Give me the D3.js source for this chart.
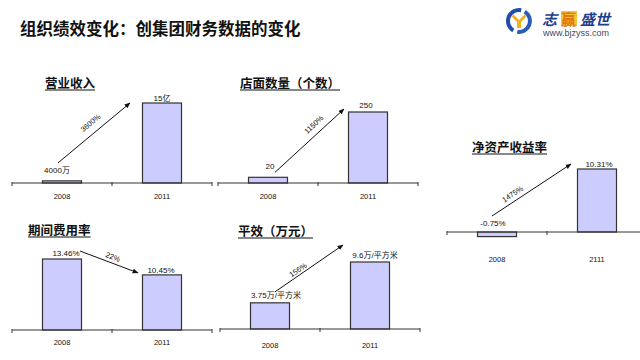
<!DOCTYPE html>
<html><head><meta charset="utf-8">
<script src="https://cdn.jsdelivr.net/npm/d3@7/dist/d3.min.js"></script>
<style>body{margin:0;background:#fff}svg{display:block}</style>
</head><body><svg id="c" width="640" height="360"></svg>
<script>
// ---- data ----
const years = ["2008", "2011"];
const roeYears = ["2008", "2111"];
const revenueValues = [0.4, 15];
const revenueLabels = ["4000万", "15亿"];
const revenueGrowth = "3600%";
const storeValues = [20, 250];
const storeLabels = ["20", "250"];
const storeGrowth = "1150%";
const roeValues = [-0.75, 10.31];
const roeLabels = ["-0.75%", "10.31%"];
const roeGrowth = "1475%";
const expenseValues = [13.46, 10.45];
const expenseLabels = ["13.46%", "10.45%"];
const expenseGrowth = "22%";
const effValues = [3.75, 9.6];
const effLabels = ["3.75万/平方米", "9.6万/平方米"];
const effGrowth = "156%";
const mainTitle = "组织绩效变化：创集团财务数据的变化";

// ---- layout ----
const panels = [
  {title: "营业收入", cats: years, values: revenueValues, labels: revenueLabels, growth: revenueGrowth,
   x0: 12, x1: 212, axisEnd: 212, base: 183, top: 103, tx: 45, ty: 88, yearDy: 16,
   lab: [[-5, -8], [0, -2]], as: [-4, -18], ae: [-32, 0], t: 0.54, d: 10},
  {title: "店面数量（个数）", cats: years, values: storeValues, labels: storeLabels, growth: storeGrowth,
   x0: 218, x1: 418, axisEnd: 418, base: 183, top: 112, tx: 240, ty: 88, yearDy: 16,
   lab: [[2, -8], [-2, -4]], as: [7, -5], ae: [-24, -3], t: 0.65, d: 9},
  {title: "净资产收益率", cats: roeYears, values: roeValues, labels: roeLabels, growth: roeGrowth,
   x0: 447, x1: 647, axisEnd: 640, base: 232, top: 169, tx: 472, ty: 152, yearDy: 30,
   lab: [[-4, -6], [2, -2]], as: [-5, -16], ae: [-26, -5], t: 0.31, d: 7},
  {title: "期间费用率", cats: years, values: expenseValues, labels: expenseLabels, growth: expenseGrowth,
   x0: 12, x1: 212, axisEnd: 212, base: 330, top: 259, tx: 28, ty: 235, yearDy: 15,
   lab: [[4, -3], [-1, -2]], as: [18, -8], ae: [-24, -2], t: 0.53, d: 6},
  {title: "平效（万元）", cats: years, values: effValues, labels: effLabels, growth: effGrowth,
   x0: 220, x1: 420, axisEnd: 420, base: 329, top: 262, tx: 238, ty: 236, yearDy: 19,
   lab: [[6, -5], [5, -4]], as: [5, -11], ae: [-27, -17], t: 0.38, d: 5}
];

const svg = d3.select("#c");
const LAT = "'Liberation Sans', Arial, 'Noto Sans CJK SC', sans-serif";
const CJK = "'Noto Sans CJK SC', 'Liberation Sans', sans-serif";

svg.append("defs").append("marker")
  .attr("id", "ah").attr("viewBox", "0 0 10 10").attr("refX", 9).attr("refY", 5)
  .attr("markerWidth", 6).attr("markerHeight", 6).attr("orient", "auto")
  .append("path").attr("d", "M0,1 L10,5 L0,9 Z").attr("fill", "#111");

// main title
svg.append("text").attr("x", 20).attr("y", 35).text(mainTitle)
  .attr("font-family", CJK).attr("font-weight", "bold").attr("font-size", 16.5).attr("fill", "#111");

// logo
const logo = svg.append("g");
logo.append("path").attr("d", d3.arc()({innerRadius: 9, outerRadius: 13, startAngle: -2.6, endAngle: 0.2}))
  .attr("transform", "translate(519,21)").attr("fill", "#1f4fa8");
logo.append("path").attr("d", d3.arc()({innerRadius: 9, outerRadius: 13, startAngle: 0.55, endAngle: 3.3}))
  .attr("transform", "translate(519,21)").attr("fill", "#2a5db8");
logo.append("path").attr("d", "M513,14 L519,20 L525,14 L526,17 L521,22 L521,28 L517,28 L517,22 L512,17 Z")
  .attr("fill", "#f2b21b");
logo.append("text").attr("x", 542).attr("y", 25).text("志").attr("font-family", CJK)
  .attr("font-weight", "bold").attr("font-style", "italic").attr("font-size", 15).attr("fill", "#1f3f8f");
logo.append("rect").attr("x", 561).attr("y", 11).attr("width", 16).attr("height", 15).attr("fill", "#f6c23a");
logo.append("text").attr("x", 561).attr("y", 25).text("赢").attr("font-family", CJK)
  .attr("font-weight", "bold").attr("font-size", 15).attr("fill", "#e07a10");
logo.append("text").attr("x", 580).attr("y", 25).text("盛世").attr("font-family", CJK)
  .attr("font-weight", "bold").attr("font-style", "italic").attr("font-size", 15).attr("fill", "#1f3f8f");
logo.append("text").attr("x", 543).attr("y", 36).text("www.bjzyss.com").attr("font-family", LAT)
  .attr("font-size", 9).attr("fill", "#3a4a6a");

panels.forEach(p => {
  const g = svg.append("g");
  const x = d3.scaleBand().domain(p.cats).range([p.x0, p.x1]).paddingInner(0.61).paddingOuter(0.305);
  const vmax = d3.max(p.values);
  const y = d3.scaleLinear().domain([0, vmax]).range([p.base, p.top]);

  // title with underline
  const tt = g.append("text").attr("x", p.tx).attr("y", p.ty).text(p.title)
    .attr("font-family", CJK).attr("font-weight", "bold").attr("font-size", 12.5).attr("fill", "#111");
  const w = tt.node().getComputedTextLength();
  g.append("line").attr("x1", p.tx).attr("x2", p.tx + w).attr("y1", p.ty + 2).attr("y2", p.ty + 2)
    .attr("stroke", "#111").attr("stroke-width", 1);

  // bars
  g.selectAll("rect.bar").data(p.values).join("rect").attr("class", "bar")
    .attr("x", (d, i) => x(p.cats[i]))
    .attr("width", x.bandwidth())
    .attr("y", d => Math.min(y(d), y(0)))
    .attr("height", d => Math.max(1.5, Math.abs(y(d) - y(0))))
    .attr("fill", "#ccccff").attr("stroke", "#333").attr("stroke-width", 1.2);

  // axis line + boundary ticks
  g.append("line").attr("x1", p.x0).attr("x2", p.axisEnd).attr("y1", p.base).attr("y2", p.base)
    .attr("stroke", "#333").attr("stroke-width", 1);
  const step = x.step();
  const bounds = [p.x0, p.x0 + step, p.x0 + 2 * step].filter(v => v <= p.axisEnd);
  g.selectAll("line.tk").data(bounds).join("line").attr("class", "tk")
    .attr("x1", d => d).attr("x2", d => d).attr("y1", p.base - 1).attr("y2", p.base + 3)
    .attr("stroke", "#333").attr("stroke-width", 1);

  // year labels
  g.selectAll("text.yr").data(p.cats).join("text").attr("class", "yr")
    .attr("x", d => x(d) + x.bandwidth() / 2).attr("y", p.base + p.yearDy)
    .attr("text-anchor", "middle").text(d => d)
    .attr("font-family", LAT).attr("font-size", 7.5).attr("fill", "#111");

  // value labels
  g.selectAll("text.vl").data(p.values).join("text").attr("class", "vl")
    .attr("x", (d, i) => x(p.cats[i]) + x.bandwidth() / 2 + p.lab[i][0])
    .attr("y", d => Math.min(y(d), y(0)) + p.lab[p.values.indexOf(d)][1])
    .attr("text-anchor", "middle").text((d, i) => p.labels[i])
    .attr("font-family", LAT).attr("font-size", 8).attr("fill", "#111");

  // arrow
  const c0 = x(p.cats[0]) + x.bandwidth() / 2, c1 = x(p.cats[1]) + x.bandwidth() / 2;
  const sx = c0 + p.as[0], sy = Math.min(y(p.values[0]), y(0)) + p.as[1];
  const ex = c1 + p.ae[0], ey = Math.min(y(p.values[1]), y(0)) + p.ae[1];
  g.append("line").attr("x1", sx).attr("y1", sy).attr("x2", ex).attr("y2", ey)
    .attr("stroke", "#111").attr("stroke-width", 1).attr("marker-end", "url(#ah)");
  const dx = ex - sx, dy = ey - sy, L = Math.hypot(dx, dy);
  const ux = dx / L, uy = dy / L;
  // normal pointing upward
  let nx = uy, ny = -ux;
  if (ny > 0) { nx = -nx; ny = -ny; }
  const lx = sx + dx * p.t + nx * p.d, ly = sy + dy * p.t + ny * p.d;
  const ang = Math.atan2(dy, dx) * 180 / Math.PI;
  g.append("text").attr("transform", `translate(${lx},${ly}) rotate(${ang})`)
    .attr("text-anchor", "middle").attr("dy", "0.35em").text(p.growth)
    .attr("font-family", LAT).attr("font-size", 7.5).attr("fill", "#111");
});
</script>
</body></html>
